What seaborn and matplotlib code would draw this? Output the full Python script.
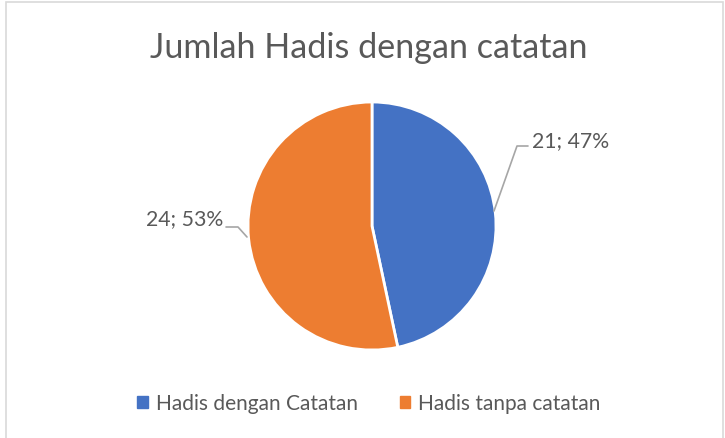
import matplotlib
matplotlib.use("Agg")
import matplotlib.pyplot as plt
import seaborn as sns
from matplotlib.patches import Rectangle

# data
labels = ["Hadis dengan Catatan", "Hadis tanpa catatan"]
counts = [21, 24]
colors = ["#4472C4", "#ED7D31"]
title = "Jumlah Hadis dengan catatan"

sns.set_style("white")
plt.rcParams["font.family"] = ["Lato", "DejaVu Sans"]
text_col = "#595959"

W, H = 725, 439
fig = plt.figure(figsize=(W / 100, H / 100), dpi=100)
ax = fig.add_axes([0, 0, 1, 1])

# chart border
ax.add_patch(Rectangle((6, -5), W - 8, H + 2, fill=False, edgecolor="#D9D9D9", linewidth=1.2))

cx, cy, r = 372, H - 227, 124
wedges, _ = ax.pie(counts, colors=colors, startangle=90, counterclock=False,
                   center=(cx, cy), radius=r, frame=True,
                   wedgeprops=dict(edgecolor="white", linewidth=2))
ax.set_xlim(0, W)
ax.set_ylim(0, H)
ax.axis("off")

total = sum(counts)
pct = [round(c / total * 100) for c in counts]

# data labels with leader lines
ax.plot([494, 517, 528], [H - 212, H - 147, H - 147], color="#A6A6A6", lw=1.2)
ax.text(532, H - 141, f"{counts[0]}; {pct[0]}%", fontsize=15.3, color=text_col, ha="left", va="center")
ax.plot([226, 238, 247], [H - 228, H - 228, H - 238], color="#A6A6A6", lw=1.2)
ax.text(223, H - 219, f"{counts[1]}; {pct[1]}%", fontsize=15.3, color=text_col, ha="right", va="center")

ax.text(W / 2 + 6, H - 48, title, fontsize=24.6, color=text_col, ha="center", va="center")

handles = [Rectangle((0, 0), 1, 1, color=c) for c in colors]
fig.legend(handles, labels, loc="center", bbox_to_anchor=(369 / W, 1 - 404 / H), ncol=2,
           frameon=False, fontsize=15, handlelength=0.5, handleheight=0.5,
           handletextpad=0.4, columnspacing=2.0, labelcolor=text_col)

fig.savefig("out.png", dpi=100)
